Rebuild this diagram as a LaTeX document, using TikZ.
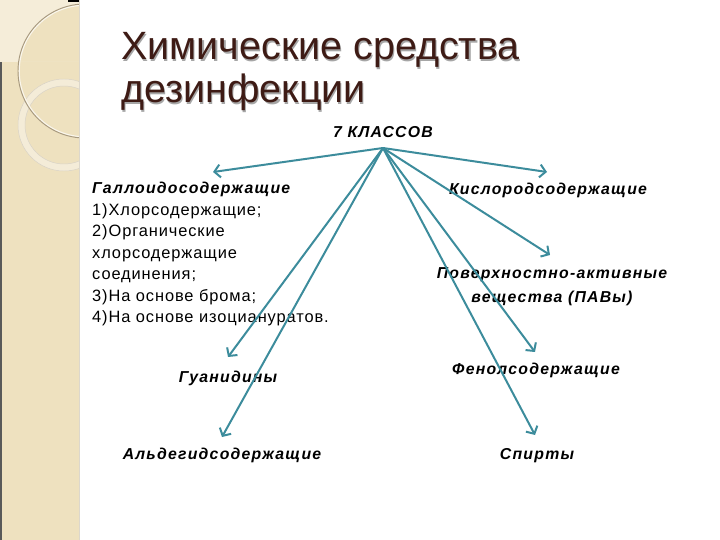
\documentclass[tikz,border=0pt]{standalone}
\usepackage{fontspec}
\setmainfont{Liberation Sans}
\newfontfamily\spacedsans[LetterSpace=7.8]{Liberation Sans}
\newfontfamily\listsans[LetterSpace=5.5]{Liberation Sans}
\usetikzlibrary{arrows.meta,positioning}
\definecolor{stripbeige}{HTML}{EEE1BF}
\definecolor{stripcream}{HTML}{F5EDD9}
\definecolor{arcgrey}{HTML}{A89A80}
\definecolor{ringlight}{HTML}{F4ECD8}
\definecolor{titlebrown}{HTML}{3E1B15}
\definecolor{arrowteal}{HTML}{3C8C9C}
\tikzset{
  heading/.style={anchor=base west,inner sep=0,font=\fontsize{33.7}{36.7}\selectfont},
  kind/.style={anchor=base,inner sep=0,font=\fontsize{13.5}{21.3}\selectfont\spacedsans\bfseries\itshape},
  listing/.style={anchor=base west,align=left,inner sep=0,font=\fontsize{14}{18.4}\selectfont\listsans},
  arr/.style={arrowteal,line width=1.7pt,-{Straight Barb[length=5pt,width=11pt]}}
}

\begin{document}
\begin{tikzpicture}[x=0.03cm,y=-0.03cm]
  \useasboundingbox[fill=white] (0,0) rectangle (720,540);
  \fill[stripbeige] (0,0) rectangle (79,540);
  \begin{scope}
    \clip (0,0) rectangle (79,62);
    \fill[stripcream,even odd rule] (0,0) rectangle (79,62) (85,71) circle (67);
  \end{scope}
  \begin{scope}
    \clip (0,0) rectangle (79,540);
    \fill[ringlight,even odd rule] (64,125) circle (46) (64,125) circle (39);
    \draw[arcgrey!45,thin] (64,125) circle (46) (64,125) circle (39);
    \draw[white!70!stripbeige,line width=1pt] (85,71) circle (65.8);
    \draw[arcgrey,line width=0.8pt] (85,71) circle (67);
  \end{scope}
  \fill[black!65] (0,62) rectangle (1.6,540);
  \fill[black] (68,0) rectangle (79,2);
  \draw[arcgrey!40] (79,0) -- (79,540);

  \node[heading,text=black!35] (ttlshadow) at (122.2,61.2) {Химические средства};
  \node[heading,text=black!35] (ttlshadowb) at (122.2,104.2) {дезинфекции};
  \node[heading,text=titlebrown] (ttl) at (121,60) {Химические средства};
  \node[heading,text=titlebrown] (ttlb) at (121,103) {дезинфекции};

  \node[kind] (root) at (383,138) {7 КЛАССОВ};
  \node[listing] (hal) at (92,323) {{\spacedsans\fontsize{13.5}{18.4}\selectfont\bfseries\itshape Галлоидосодержащие}\\
    1)Хлорсодержащие;\\2)Органические\\хлорсодержащие\\соединения;\\3)На основе брома;\\4)На основе изоциануратов.};
  \node[kind] (kis) at (548,195) {Кислородсодержащие};
  \node[kind,align=center] (pav) at (552,303) {Поверхностно-активные\\вещества (ПАВы)};
  \node[kind] (gua) at (228,382) {Гуанидины};
  \node[kind] (fen) at (536,375) {Фенолсодержащие};
  \node[kind] (ald) at (222,460) {Альдегидсодержащие};
  \node[kind] (spi) at (537,460) {Спирты};

  \coordinate[below=3mm of root.base] (hub);
  \foreach \n/\x/\y in {hal/213/172,kis/547/172,pav/550/255,gua/228/357,ald/222/437,fen/535/352,spi/535/435}
    \coordinate (t\n) at (\x,\y);
  \foreach \n in {hal,kis,pav,gua,ald,fen,spi}
    \draw[arr] (hub) -- (t\n);
\end{tikzpicture}
\end{document}
